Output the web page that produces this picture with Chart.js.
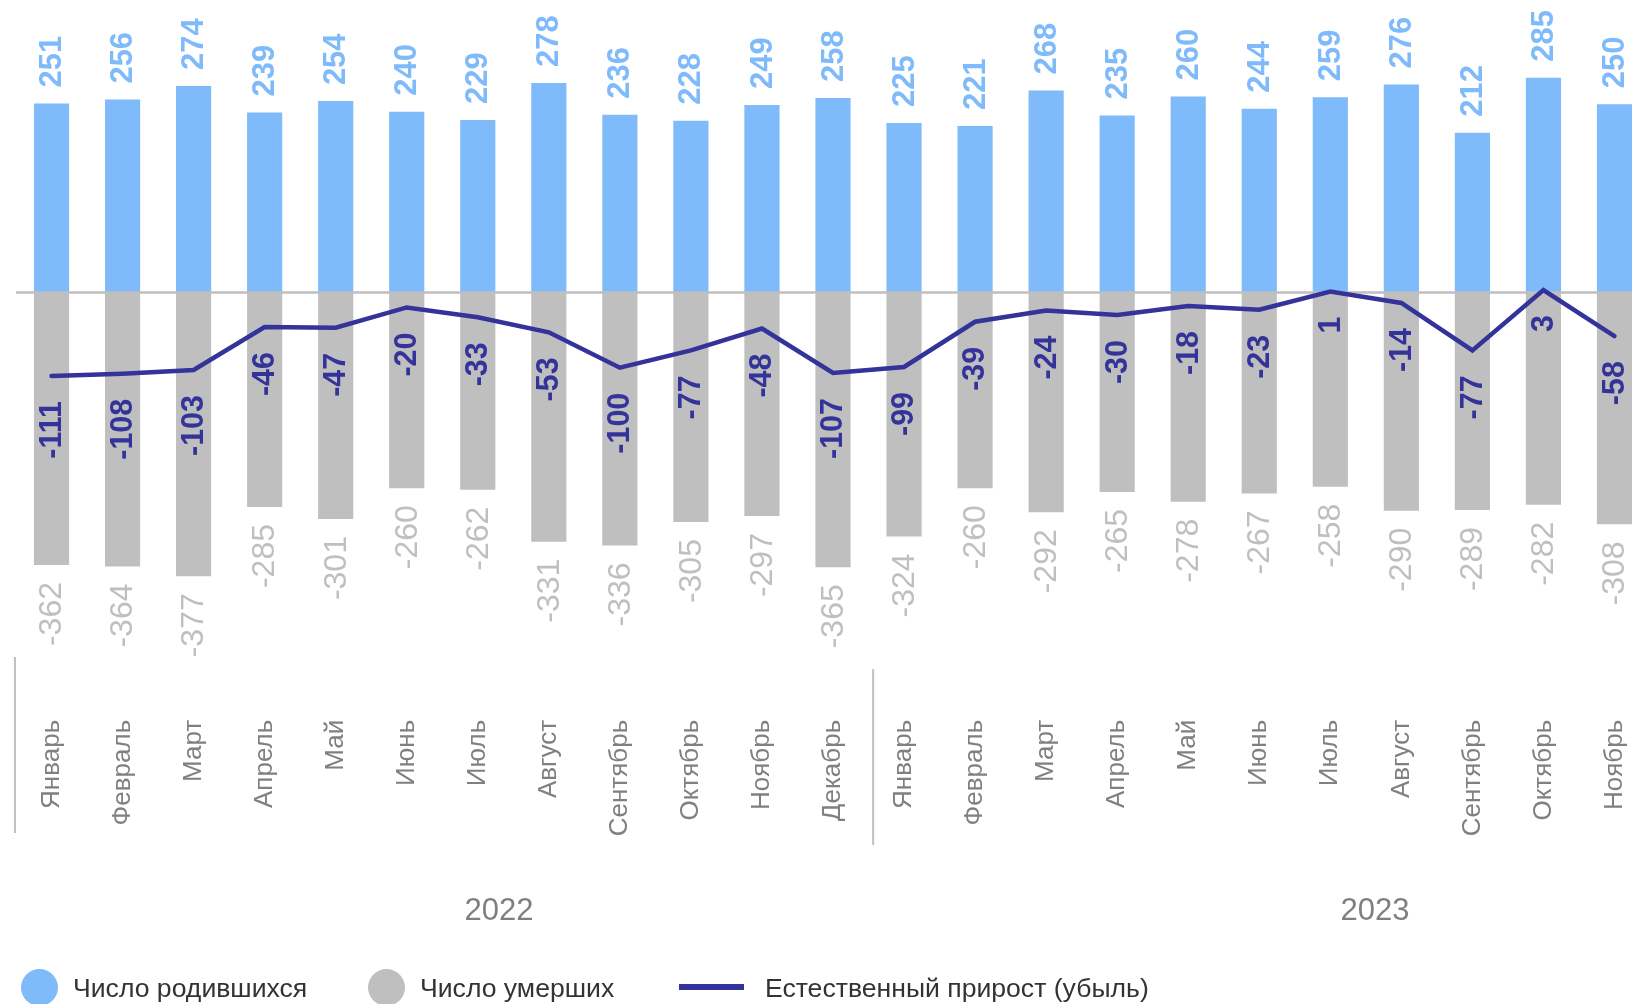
<!DOCTYPE html>
<html>
<head>
<meta charset="utf-8">
<script src="https://cdn.jsdelivr.net/npm/chart.js@4/dist/chart.umd.min.js"></script>
<style>
  html, body { margin: 0; padding: 0; background: #fff; overflow: hidden; width: 1632px; height: 1004px; }
  #wrap { position: relative; width: 1650px; height: 1004px; }
  canvas { position: absolute; left: 0; top: 0; }
  .lg { position: absolute; font-family: "Liberation Sans", Arial, sans-serif; font-size: 26.6px; color: #333; line-height: 1; white-space: nowrap; }
  .dot { position: absolute; width: 37px; height: 37px; border-radius: 50%; }
  .ln { position: absolute; width: 65px; height: 6px; }
</style>
</head>
<body>
<div id="wrap">
  <canvas id="c" width="1650" height="1004"></canvas>
  <div class="dot" style="left:21px; top:969px; background:#7FBAFA;"></div>
  <div class="lg" style="left:73px; top:975px;">Число родившихся</div>
  <div class="dot" style="left:368px; top:969px; background:#BFBFBF;"></div>
  <div class="lg" style="left:420px; top:975px;">Число умерших</div>
  <div class="ln" style="left:679px; top:984px; background:#333399;"></div>
  <div class="lg" style="left:765px; top:975px;">Естественный прирост (убыль)</div>
</div>
<script>
const months = ['Январь','Февраль','Март','Апрель','Май','Июнь','Июль','Август','Сентябрь','Октябрь','Ноябрь','Декабрь',
                'Январь','Февраль','Март','Апрель','Май','Июнь','Июль','Август','Сентябрь','Октябрь','Ноябрь'];
const births = [251,256,274,239,254,240,229,278,236,228,249,258,225,221,268,235,260,244,259,276,212,285,250];
const deaths = [-362,-364,-377,-285,-301,-260,-262,-331,-336,-305,-297,-365,-324,-260,-292,-265,-278,-267,-258,-290,-289,-282,-308];
const natural = [-111,-108,-103,-46,-47,-20,-33,-53,-100,-77,-48,-107,-99,-39,-24,-30,-18,-23,1,-14,-77,3,-58];
const years = ['2022','2023'];

const BLUE = '#7FBAFA', GRAY = '#BFBFBF', NAVY = '#333399';
const FONT = '"Liberation Sans", Arial, sans-serif';

const decor = {
  id: 'decor',
  beforeDatasetDraw(chart, args) {
    if (args.index !== 2) return;
    const ctx = chart.ctx, y = chart.scales.y.getPixelForValue(0), a = chart.chartArea;
    ctx.save();
    ctx.strokeStyle = GRAY; ctx.lineWidth = 2.5;
    ctx.beginPath(); ctx.moveTo(a.left, y); ctx.lineTo(a.right, y); ctx.stroke();
    ctx.restore();
  },
  afterDatasetsDraw(chart) {
    const ctx = chart.ctx;
    const specs = [
      { ds: 0, color: BLUE, font: 'bold 31px ' + FONT },
      { ds: 1, color: GRAY, font: '32px ' + FONT },
      { ds: 2, color: NAVY, font: 'bold 30.5px ' + FONT }
    ];
    specs.forEach(s => {
      const meta = chart.getDatasetMeta(s.ds);
      const vals = chart.data.datasets[s.ds].data;
      meta.data.forEach((el, i) => {
        let y, align;
        if (s.ds === 0) { y = el.y - 16; align = 'left'; }
        else if (s.ds === 1) { y = el.y + 17; align = 'right'; }
        else { y = el.y + 25; align = 'right'; }
        ctx.save();
        ctx.translate(el.x + 1, y);
        ctx.rotate(-Math.PI / 2);
        ctx.font = s.font; ctx.fillStyle = s.color;
        ctx.textAlign = align; ctx.textBaseline = 'middle';
        ctx.fillText(String(vals[i]), 0, 0);
        ctx.restore();
      });
    });
    // group separators and year labels
    const x = chart.scales.x;
    ctx.save();
    ctx.strokeStyle = GRAY; ctx.lineWidth = 2;
    let sx = x.getPixelForValue(-0.515);
    ctx.beginPath(); ctx.moveTo(sx, 657); ctx.lineTo(sx, 833); ctx.stroke();
    sx = x.getPixelForValue(11.565);
    ctx.beginPath(); ctx.moveTo(sx, 669); ctx.lineTo(sx, 845); ctx.stroke();
    ctx.font = '31px ' + FONT; ctx.fillStyle = '#7f7f7f';
    ctx.textAlign = 'center'; ctx.textBaseline = 'middle';
    ctx.fillText(years[0], x.getPixelForValue(6.3), 911);
    ctx.fillText(years[1], x.getPixelForValue(18.63), 911);
    ctx.restore();
  }
};

new Chart(document.getElementById('c'), {
  data: {
    labels: months,
    datasets: [
      { type: 'bar', label: 'Число родившихся', data: births, backgroundColor: BLUE, grouped: false,
        categoryPercentage: 1, barPercentage: 0.495, order: 1 },
      { type: 'bar', label: 'Число умерших', data: deaths, backgroundColor: GRAY, grouped: false,
        categoryPercentage: 1, barPercentage: 0.495, order: 1 },
      { type: 'line', label: 'Естественный прирост (убыль)', data: natural, borderColor: NAVY, borderWidth: 4.5,
        pointRadius: 0, tension: 0, borderCapStyle: 'round', borderJoinStyle: 'miter', fill: false, order: 0 }
    ]
  },
  options: {
    responsive: false,
    animation: false,
    layout: { padding: { left: 16, right: 0, top: 10, bottom: 0 } },
    plugins: { legend: { display: false }, tooltip: { enabled: false } },
    scales: {
      y: { display: false, min: -545, max: 375 },
      x: {
        grid: { display: false }, border: { display: false },
        afterFit(scale) { scale.height = 301.2; scale.paddingLeft = 0; scale.paddingRight = 0; },
        ticks: { autoSkip: false, minRotation: 90, maxRotation: 90, padding: 9, color: '#808080',
                 font: { family: FONT, size: 26 } }
      }
    }
  },
  plugins: [decor]
});
</script>
</body>
</html>
